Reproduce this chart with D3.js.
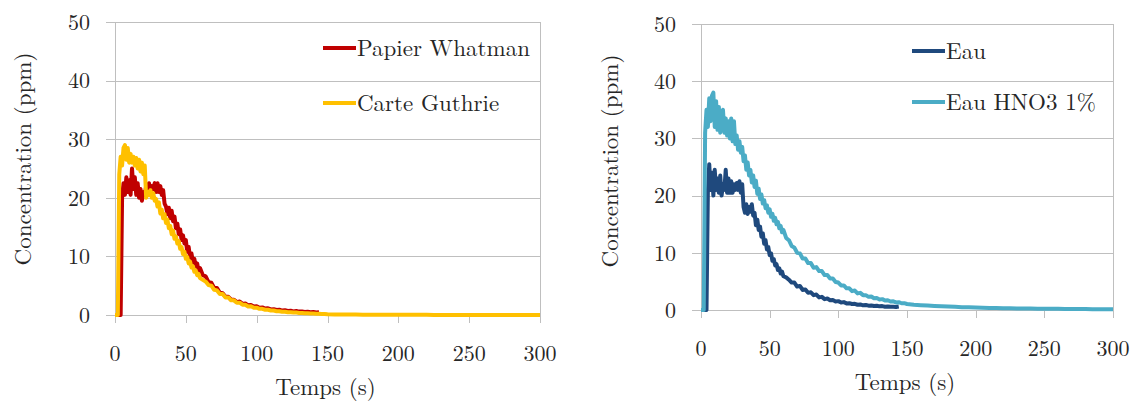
<!DOCTYPE html>
<html><head><meta charset="utf-8">
<script src="https://cdn.jsdelivr.net/npm/d3@7"></script>
<style>
html,body{margin:0;padding:0;background:#fff;}
svg{display:block;}
</style></head>
<body>
<svg id="chart" width="1133" height="403"></svg>
<script>
// ---- DATA ----
const time = [
  0,1,2,3,4,5,6,7,8,9,10,11,12,13,14,15,16,17,18,19,20,21,22,23,24,25,26,27,28,29,30,
  31,32,33,34,35,36,37,38,39,40,41,42,43,44,45,46,47,48,49,50,51,52,53,54,55,56,57,58,59,60,
  62,64,66,68,70,72,74,76,78,80,82,84,86,88,90,92,94,96,98,100,102,104,106,108,110,112,114,116,118,120,
  122,124,126,128,130,132,134,136,138,140,142,144,146,148,150,
  155,160,165,170,175,180,185,190,195,200,205,210,215,220,225,230,235,240,245,250,255,260,265,270,275,280,285,290,295,300
];
const xTicks = [0,50,100,150,200,250,300];
const yTicks = [0,10,20,30,40,50];

const papierWhatman = [
  0,0,0,0,0,20,22.5,20.5,23.5,21,23,20.5,25,21.5,23.5,20.5,22.5,20,21.5,19.5,21,20.5,22,21,22.5,21,22,21.5,22.5,21,22.5,
  21,22,20.5,21.3,19,18.5,17.2,18.3,16.5,17.8,16,16.8,14.8,15.6,13.8,14.6,12.8,13.6,12.2,12.8,10.8,11.6,9.8,10.5,9,9.6,8.3,8.8,7.5,8.0,
  6.8,6.6,5.6,5.5,4.6,4.6,3.8,3.7,3.1,3.1,2.6,2.6,2.2,2.3,1.9,1.95,1.65,1.7,1.45,1.5,1.25,1.3,1.1,1.15,0.95,1.0,0.85,0.9,0.75,0.8,
  0.7,0.72,0.62,0.68,0.58,0.6,0.52,0.55,0.48,0.5,0.42,0.45,null,null,null,
  null,null,null,null,null,null,null,null,null,null,null,null,null,null,null,null,null,null,null,null,null,null,null,null,null,null,null,null,null,null
];
const carteGuthrie = [
  0,0,0,24,27,25.5,28.5,29,26.5,28.5,26,27.5,26,27,25.5,26.8,25,26.5,24.5,26,24,25.5,20,21,20.5,21.3,20,20.8,19.5,19.8,18.5,
  19.2,17.3,18,16.5,17.2,15.7,16.3,14.8,15.2,13.8,14.4,13,13.4,12.2,12.6,11.3,11.6,10.4,10.8,9.6,9.9,8.8,9.1,8.1,8.3,7.4,7.6,6.8,7.0,6.3,
  6.0,5.7,5.1,5.0,4.3,4.2,3.6,3.6,3.0,3.0,2.5,2.5,2.1,2.1,1.75,1.75,1.45,1.5,1.25,1.25,1.05,1.05,0.9,0.9,0.77,0.77,0.65,0.65,0.55,0.55,
  0.47,0.47,0.41,0.41,0.35,0.35,0.3,0.3,0.25,0.25,0.2,0.2,0.16,0.16,0.12,
  0.1,0.09,0.08,0.07,0.06,0.05,0.05,0.04,0.04,0.04,0.03,0.03,0.03,0.03,0.02,0.02,0.02,0.02,0.02,0.02,0.01,0.01,0.01,0.01,0.01,0.01,0.01,0.01,0.01,0.01
];
const eau = [
  0,0,0,0,0,20.5,25.5,21,24,20,24.5,21,23,20.5,23.5,20,22,21,24.5,20.5,23,20.5,22.5,20.5,22,21,22.2,21,22.5,20.5,22,
  18,17,18.5,16.8,18,17.2,18.5,16.5,17,14.8,15.8,14,14.6,12.8,13.4,11.6,12.2,10.6,11.0,9.6,9.9,8.6,8.9,7.8,8.0,7.0,7.3,6.4,6.7,5.9,
  5.7,5.3,4.8,4.8,4.1,4.2,3.5,3.6,3.0,3.1,2.6,2.7,2.2,2.3,1.9,2.0,1.7,1.75,1.5,1.55,1.3,1.38,1.15,1.2,1.05,1.08,0.92,0.98,0.82,0.88,
  0.76,0.8,0.7,0.74,0.64,0.68,0.58,0.62,0.55,0.57,0.52,0.6,null,null,null,
  null,null,null,null,null,null,null,null,null,null,null,null,null,null,null,null,null,null,null,null,null,null,null,null,null,null,null,null,null,null
];
const eauHNO3 = [
  0,0,0,31,35,32,37,33,37.5,38,32,36.5,31.5,35.5,31,34.5,35,31,33.5,30.5,33,30,33.5,29.5,33,29,30.5,28,29.5,27.5,28.5,
  26,27,24.5,25.8,23.5,24.5,22.3,23.5,21.5,22.6,20.3,21.2,19.4,20.2,18.6,19.2,17.8,18.3,17.0,17.6,16.3,16.8,15.6,16.1,15.0,15.4,14.3,14.7,13.6,14.0,
  12.6,12.2,11.2,10.9,10.0,9.9,9.0,9.0,8.2,8.2,7.4,7.5,6.8,6.8,6.1,6.1,5.5,5.5,4.9,4.8,4.3,4.3,3.8,3.8,3.3,3.4,2.9,3.0,2.6,2.6,
  2.3,2.35,2.05,2.1,1.85,1.9,1.65,1.7,1.48,1.52,1.32,1.36,1.18,1.2,1.05,
  0.9,0.85,0.78,0.72,0.66,0.6,0.55,0.5,0.47,0.44,0.4,0.37,0.34,0.32,0.3,0.28,0.26,0.25,0.24,0.22,0.21,0.2,0.19,0.18,0.17,0.16,0.15,0.14,0.13,0.12
];

const seriesLeft = [
  {name:"Papier Whatman", values: papierWhatman, color:"#C00000"},
  {name:"Carte Guthrie", values: carteGuthrie, color:"#FFC000"}
];
const seriesRight = [
  {name:"Eau", values: eau, color:"#1F497D"},
  {name:"Eau HNO3 1%", values: eauHNO3, color:"#4BACC6"}
];

const FONT = "'Latin Modern Roman', serif";
const svg = d3.select("#chart");

function txt(sel) {
  return sel.style("font-family", FONT).attr("fill", "#262626");
}

function drawPanel(cfg) {
  const g = svg.append("g");
  const x = d3.scaleLinear().domain([0,300]).range([cfg.left, cfg.right]);
  const y = d3.scaleLinear().domain([0,50]).range([cfg.bottom, cfg.top]);
  const grid = "#BFBFBF";

  g.selectAll("line.grid").data(yTicks).join("line")
    .attr("x1", cfg.left - 9).attr("x2", cfg.right)
    .attr("y1", d => Math.round(y(d)) + 0.5).attr("y2", d => Math.round(y(d)) + 0.5)
    .attr("stroke", grid).attr("stroke-width", 1);
  [cfg.left, cfg.right].forEach(px => {
    g.append("line").attr("x1", Math.round(px)+0.5).attr("x2", Math.round(px)+0.5)
      .attr("y1", Math.round(y(50))).attr("y2", Math.round(y(0)) + 8)
      .attr("stroke", grid).attr("stroke-width", 1);
  });
  g.selectAll("line.xt").data(xTicks).join("line")
    .attr("x1", d => Math.round(x(d)) + 0.5).attr("x2", d => Math.round(x(d)) + 0.5)
    .attr("y1", Math.round(y(0))).attr("y2", Math.round(y(0)) + 8)
    .attr("stroke", grid).attr("stroke-width", 1);

  txt(g.selectAll("text.yl").data(yTicks).join("text"))
    .attr("x", cfg.left - 25).attr("y", d => y(d)).attr("dy", "0.35em")
    .attr("text-anchor", "end").attr("font-size", 22).text(d => d);
  txt(g.selectAll("text.xl").data(xTicks).join("text"))
    .attr("x", d => x(d)).attr("y", cfg.xLabelY).attr("dy", "0.35em")
    .attr("text-anchor", "middle").attr("font-size", 22).text(d => d);

  txt(g.append("text")).attr("x", (cfg.left + cfg.right)/2 - 2).attr("y", cfg.xTitleY).attr("dy","0.35em")
    .attr("text-anchor","middle").attr("font-size", 23).text("Temps (s)");
  txt(g.append("text"))
    .attr("transform", `translate(${cfg.yTitleX},${cfg.yTitleC}) rotate(-90)`)
    .attr("dy","0.35em").attr("text-anchor","middle").attr("font-size", 23)
    .text("Concentration (ppm)");

  const line = d3.line()
    .defined(d => d[1] !== null)
    .x(d => x(d[0])).y(d => y(d[1]));
  const clipId = "clip" + cfg.id;
  svg.append("clipPath").attr("id", clipId).append("rect")
    .attr("x", cfg.left).attr("y", cfg.top - 5).attr("width", cfg.right - cfg.left + 2).attr("height", cfg.bottom - cfg.top + 7);
  cfg.series.forEach(s => {
    g.append("path")
      .datum(time.map((t, i) => [t, s.values[i]]))
      .attr("d", line)
      .attr("fill", "none").attr("stroke", s.color)
      .attr("stroke-width", 4).attr("stroke-linejoin", "round")
      .attr("clip-path", `url(#${clipId})`);
  });

  cfg.series.forEach((s, i) => {
    const ly = cfg.legendY[i];
    g.append("line").attr("x1", cfg.legendX).attr("x2", cfg.legendX + 33)
      .attr("y1", ly).attr("y2", ly).attr("stroke", s.color).attr("stroke-width", 4);
    txt(g.append("text")).attr("x", cfg.legendX + 34).attr("y", ly).attr("dy", "0.35em")
      .attr("font-size", 23).text(s.name);
  });
}

drawPanel({id:"L", left:115, right:540, top:22, bottom:315, xLabelY:353, xTitleY:387, yTitleX:23, yTitleC:159,
  series: seriesLeft, legendX:323, legendY:[48,103]});
drawPanel({id:"R", left:701, right:1113, top:24, bottom:310, xLabelY:348, xTitleY:382, yTitleX:610, yTitleC:161,
  series: seriesRight, legendX:912, legendY:[51,102]});
</script>
</body></html>
